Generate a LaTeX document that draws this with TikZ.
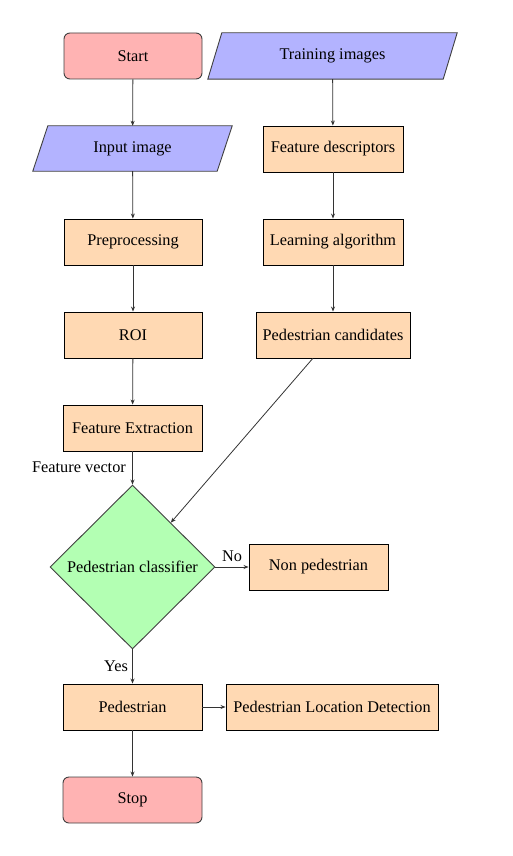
\documentclass[tikz,border=0pt]{standalone}
\usepackage{fontspec}
\setmainfont{Liberation Serif}
\usetikzlibrary{shapes.geometric,arrows.meta}
\pgfdeclarelayer{bg}
\pgfsetlayers{bg,main}
\definecolor{termc}{RGB}{255,179,179}
\definecolor{ioc}{RGB}{179,179,255}
\definecolor{procc}{RGB}{255,217,179}
\definecolor{decc}{RGB}{179,255,179}
\newcommand{\fsz}{\fontsize{16.3}{19}\selectfont}
\begin{document}
\begin{tikzpicture}[x=1pt,y=-1pt,
  every node/.style={font=\fsz, text=black},
  box/.style={rectangle, draw=black, line width=0.9pt, fill=procc, minimum height=46pt, inner sep=2pt},
  term/.style={rectangle, rounded corners=6pt, draw=black!75, line width=0.9pt, fill=termc, minimum width=138pt, minimum height=46pt},
  iotext/.style={rectangle, minimum height=46pt, inner sep=0pt},
  iofill/.style={fill=ioc, draw=black!75, line width=0.9pt},
  dec/.style={diamond, draw=black!75, line width=0.9pt, fill=decc, inner sep=0pt, minimum width=165pt, minimum height=164pt},
  lbl/.style={inner sep=0pt},
  arr/.style={-{Stealth[length=5pt,width=4pt]}, draw=black!80, line width=0.8pt}]
\useasboundingbox (0,0) rectangle (513,856);
\node[term] (start) at (133,56) {Start};
\node[iotext, minimum width=235pt] (train) at (332.5,56) {Training images};
\node[iotext, minimum width=184pt, minimum height=45pt] (input) at (132.5,148.5) {Input image};
\node[box, minimum width=140pt] (fdesc) at (333,149) {Feature descriptors};
\node[box, minimum width=138pt] (pre) at (133,242) {Preprocessing};
\node[box, minimum width=140pt] (learn) at (333,242) {Learning algorithm};
\node[box, minimum width=138pt] (roi) at (133,335) {ROI};
\node[box, minimum width=154pt] (cand) at (333,335) {Pedestrian candidates};
\node[box, minimum width=139pt] (fext) at (132.5,428) {Feature Extraction};
\node[dec] (clf) at (132.5,567) {Pedestrian classifier};
\node[box, minimum width=139pt] (non) at (318.5,567) {Non pedestrian};
\node[box, minimum width=139pt] (ped) at (132.5,707) {Pedestrian};
\node[box, minimum width=212pt] (loc) at (332,707) {Pedestrian Location Detection};
\node[term, minimum width=139pt] (stop) at (132.5,800) {Stop};
\node[lbl] (fv) at (79,467) {Feature vector};
\node[lbl] (no) at (232,556) {No};
\node[lbl] (yes) at (116,666) {Yes};
\begin{pgfonlayer}{bg}
\draw[iofill] ([xshift=7pt]train.north west) -- ([xshift=7pt]train.north east) -- ([xshift=-7pt]train.south east) -- ([xshift=-7pt]train.south west) -- cycle;
\draw[iofill] ([xshift=7.5pt]input.north west) -- ([xshift=7.5pt]input.north east) -- ([xshift=-7.5pt]input.south east) -- ([xshift=-7.5pt]input.south west) -- cycle;
\end{pgfonlayer}
\draw[arr] (start) -- (input);
\draw[arr] (input) -- (pre);
\draw[arr] (pre) -- (roi);
\draw[arr] (roi) -- (fext);
\draw[arr] (fext) -- (clf);
\draw[arr] (train) -- (fdesc);
\draw[arr] (fdesc) -- (learn);
\draw[arr] (learn) -- (cand);
\draw[arr] (cand) -- (clf);
\draw[arr] (clf) -- (non);
\draw[arr] (clf) -- (ped);
\draw[arr] (ped) -- (loc);
\draw[arr] (ped) -- (stop);
\end{tikzpicture}
\end{document}
